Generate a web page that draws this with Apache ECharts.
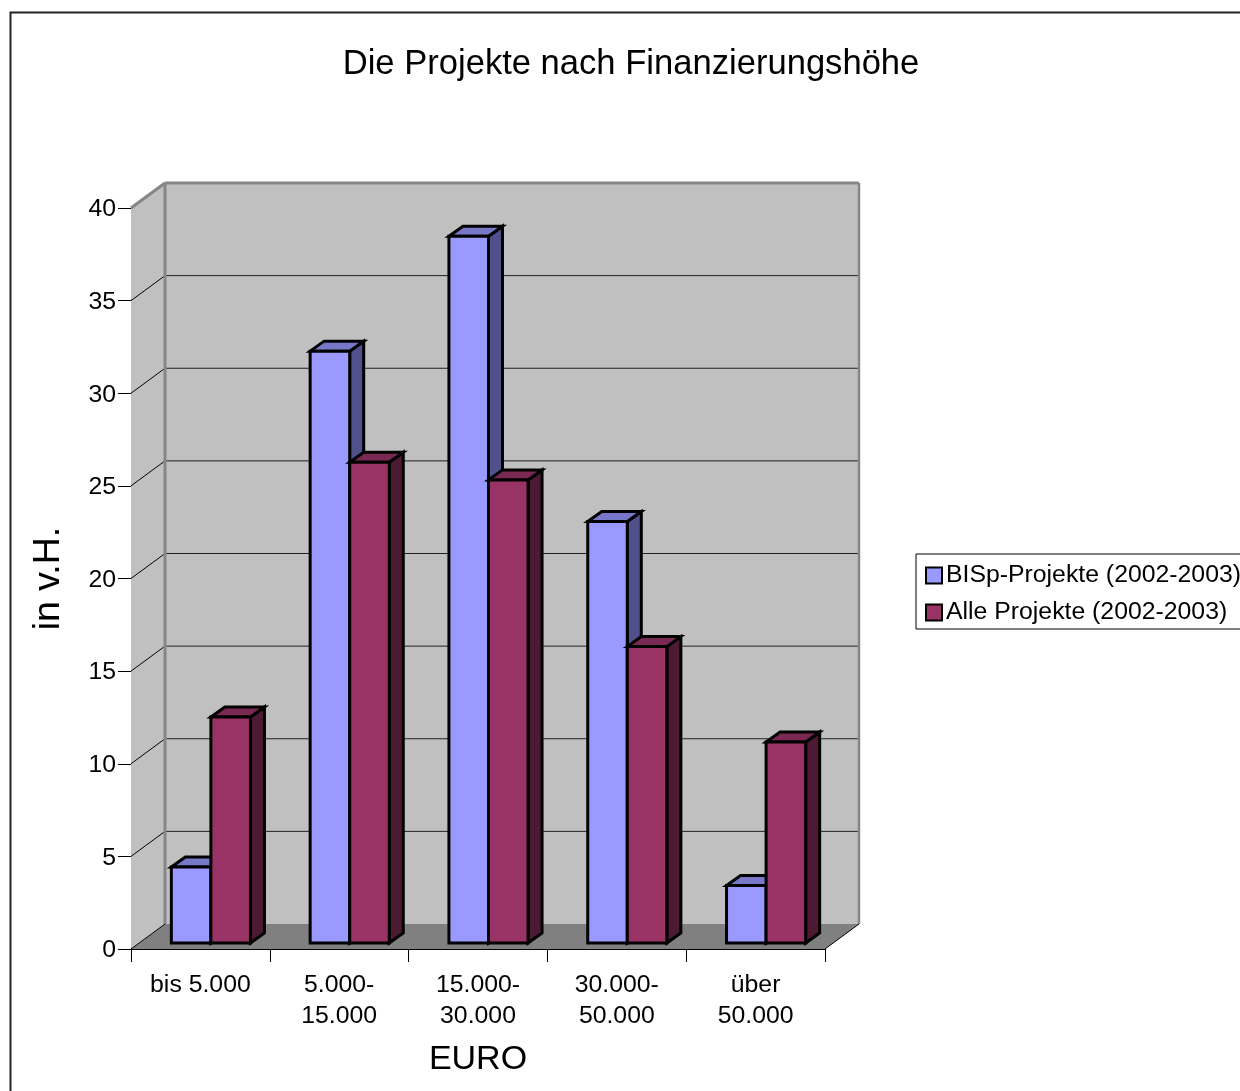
<!DOCTYPE html>
<html><head><meta charset="utf-8">
<style>html,body{margin:0;padding:0;background:#fff;overflow:hidden}#c{width:1240px;height:1091px}</style>
<script src="https://cdn.jsdelivr.net/npm/echarts@6/dist/echarts.min.js"></script>
</head><body><div id="c"></div>
<script>
const categories = ['bis 5.000', '5.000-\n15.000', '15.000-\n30.000', '30.000-\n50.000', 'über\n50.000'];
const bispValues = [4.1, 31.95, 38.15, 22.75, 3.1];
const alleValues = [12.2, 25.95, 25, 16, 10.85];
const yTicks = [0, 5, 10, 15, 20, 25, 30, 35, 40];
const FONT = '"Liberation Sans", Arial, sans-serif';
const WALL_DX = 34, WALL_DY = -25;
const BAR_DX = 14, BAR_DY = -10;
const BAR_OFF_X = 10.5, BAR_OFF_Y = -6, BAR_RATIO = 0.285;

function renderWalls(params, api) {
  const y0 = api.coord([0, 0]), yMax = api.coord([0, 40]);
  const band = api.size([1, 0])[0];
  const xL = y0[0] - band / 2, xR = xL + band * categories.length;
  const yB = y0[1], yT = yMax[1];
  const kids = [];
  const poly = (pts, fill) => kids.push({type: 'polygon', shape: {points: pts}, style: {fill: fill, stroke: null}});
  const line = (x1, y1, x2, y2, c, w) => kids.push({type: 'line', shape: {x1, y1, x2, y2}, style: {stroke: c, lineWidth: w}});
  poly([[xL, yT], [xL + WALL_DX, yT + WALL_DY], [xL + WALL_DX, yB + WALL_DY], [xL, yB]], '#c0c0c0');
  poly([[xL + WALL_DX, yT + WALL_DY], [xR + WALL_DX, yT + WALL_DY], [xR + WALL_DX, yB + WALL_DY], [xL + WALL_DX, yB + WALL_DY]], '#c0c0c0');
  poly([[xL, yB], [xL + WALL_DX, yB + WALL_DY], [xR + WALL_DX, yB + WALL_DY], [xR, yB]], '#808080');
  yTicks.forEach(t => {
    if (t === 0 || t === 40) return;
    const y = api.coord([0, t])[1];
    line(xL, y, xL + WALL_DX, y + WALL_DY, '#000', 1);
    line(xL + WALL_DX, y + WALL_DY, xR + WALL_DX, y + WALL_DY, '#222', 1);
  });
  line(xL, yT, xL + WALL_DX, yT + WALL_DY, '#868686', 3);
  line(xL + WALL_DX, yT + WALL_DY, xR + WALL_DX, yT + WALL_DY, '#868686', 3);
  line(xL + WALL_DX, yT + WALL_DY, xL + WALL_DX, yB + WALL_DY, '#868686', 3);
  line(xR + WALL_DX, yT + WALL_DY, xR + WALL_DX, yB + WALL_DY, '#868686', 2.5);
  line(xL, yB, xL + WALL_DX, yB + WALL_DY, '#000', 1);
  line(xR, yB, xR + WALL_DX, yB + WALL_DY, '#000', 1);
  return {type: 'group', children: kids};
}

function makeBar(side, front, top, dark) {
  return function (params, api) {
    const i = api.value(0), v = api.value(1);
    const p = api.coord([i, v]), b = api.coord([i, 0]);
    const band = api.size([1, 0])[0];
    const w = band * BAR_RATIO;
    const x0 = p[0] + BAR_OFF_X + (side < 0 ? -w : 0), x1 = x0 + w;
    const yt = p[1] + BAR_OFF_Y, yb = b[1] + BAR_OFF_Y;
    const st = f => ({fill: f, stroke: '#000', lineWidth: 3, lineJoin: 'miter'});
    return {type: 'group', children: [
      {type: 'polygon', shape: {points: [[x1, yt], [x1 + BAR_DX, yt + BAR_DY], [x1 + BAR_DX, yb + BAR_DY], [x1, yb]]}, style: st(dark)},
      {type: 'polygon', shape: {points: [[x0, yt], [x0 + BAR_DX, yt + BAR_DY], [x1 + BAR_DX, yt + BAR_DY], [x1, yt]]}, style: st(top)},
      {type: 'rect', shape: {x: x0, y: yt, width: w, height: yb - yt}, style: st(front)}
    ]};
  };
}

const chart = echarts.init(document.getElementById('c'), null, {renderer: 'canvas'});
chart.setOption({
  animation: false,
  backgroundColor: '#fff',
  textStyle: {fontFamily: FONT},
  title: {
    text: 'Die Projekte nach Finanzierungshöhe',
    left: 626, top: 42, textAlign: 'center',
    textStyle: {fontFamily: FONT, fontSize: 34.6, fontWeight: 'normal', color: '#000'}
  },
  graphic: [{
    type: 'rect', silent: true, z: -10,
    shape: {x: 10.5, y: 12.5, width: 1300, height: 1200},
    style: {fill: 'transparent', stroke: '#222', lineWidth: 2}
  }],
  legend: {
    orient: 'vertical', left: 916, top: 554,
    data: ['BISp-Projekte (2002-2003)', 'Alle Projekte (2002-2003)'],
    icon: 'rect', itemWidth: 16, itemHeight: 16, itemGap: 12,
    padding: [9, 10, 4, 9],
    borderColor: '#000', borderWidth: 1, backgroundColor: '#fff',
    textStyle: {fontFamily: FONT, fontSize: 24.8, color: '#000', padding: [0, 0, 0, -1], lineHeight: 20},
    selectedMode: false
  },
  grid: {left: 131, top: 208, width: 694, height: 741, outerBoundsMode: 'none'},
  xAxis: {
    type: 'category', data: categories, name: 'EURO',
    nameLocation: 'middle', nameGap: 94,
    nameTextStyle: {fontFamily: FONT, fontSize: 34, color: '#000'},
    axisLine: {show: true, lineStyle: {color: '#000', width: 1}},
    axisTick: {show: true, length: 13, lineStyle: {color: '#000', width: 1}},
    axisLabel: {fontFamily: FONT, fontSize: 24.8, color: '#000', lineHeight: 31, margin: 21, interval: 0},
    splitLine: {show: false}
  },
  yAxis: {
    type: 'value', min: 0, max: 40, interval: 5, name: 'in v.H.',
    nameLocation: 'middle', nameGap: 63, nameRotate: 90,
    nameTextStyle: {fontFamily: FONT, fontSize: 37.5, color: '#000'},
    axisLine: {show: true, lineStyle: {color: '#000', width: 1}},
    axisTick: {show: true, length: 13, lineStyle: {color: '#000', width: 1}},
    axisLabel: {
      fontFamily: FONT, fontSize: 24.8, color: '#000', margin: 15,
      formatter: '{n|{value}}',
      rich: {n: {fontFamily: FONT, fontSize: 24.8, color: '#000', padding: [3, 0, 0, 0]}}
    },
    splitLine: {show: false}
  },
  series: [
    {type: 'custom', name: 'walls', silent: true, z: 1, data: [[0, 0]], encode: {x: 0, y: 1}, renderItem: renderWalls},
    {type: 'custom', name: 'BISp-Projekte (2002-2003)', z: 2, encode: {x: 0, y: 1},
      itemStyle: {color: '#9999ff', borderColor: '#000', borderWidth: 3},
      data: bispValues.map((v, i) => [i, v]),
      renderItem: makeBar(-1, '#9999ff', '#7878c8', '#50508a')},
    {type: 'custom', name: 'Alle Projekte (2002-2003)', z: 3, encode: {x: 0, y: 1},
      itemStyle: {color: '#993366', borderColor: '#000', borderWidth: 3},
      data: alleValues.map((v, i) => [i, v]),
      renderItem: makeBar(1, '#993366', '#7a2952', '#4d1a33')}
  ]
});
</script></body></html>
